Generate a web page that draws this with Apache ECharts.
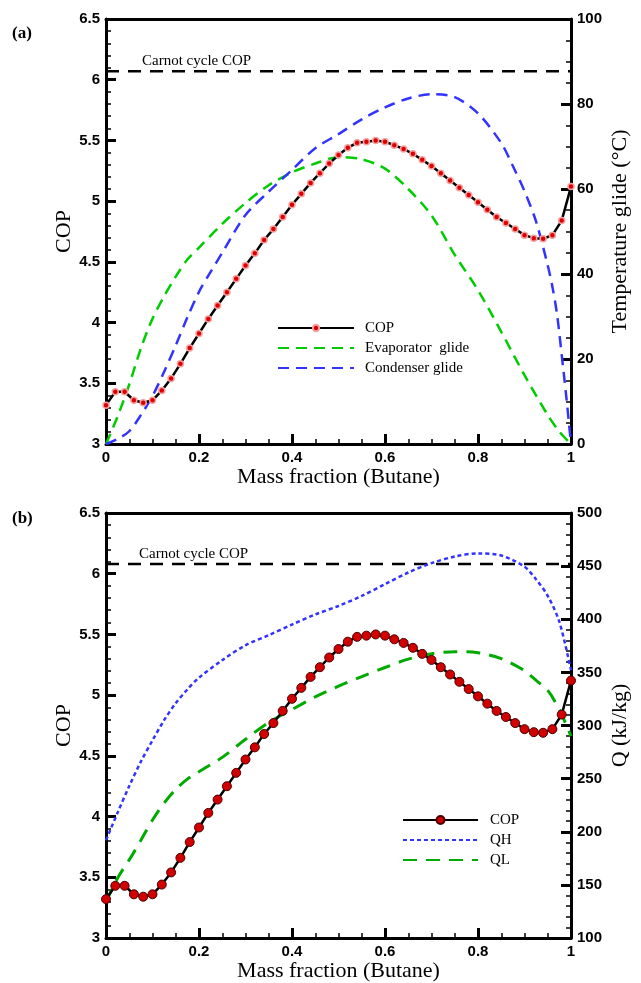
<!DOCTYPE html>
<html>
<head>
<meta charset="utf-8">
<script src="https://cdn.jsdelivr.net/npm/echarts@6/dist/echarts.min.js"></script>
<style>
html,body{margin:0;padding:0;background:#fff;}
#chart{width:641px;height:983px;}
</style>
</head>
<body>
<div id="chart"></div>
<script>
// ---- data ----
const copX = [0,0.02,0.04,0.06,0.08,0.10,0.12,0.14,0.16,0.18,0.20,0.22,0.24,0.26,0.28,0.30,0.32,0.34,0.36,0.38,0.40,0.42,0.44,0.46,0.48,0.50,0.52,0.54,0.56,0.58,0.60,0.62,0.64,0.66,0.68,0.70,0.72,0.74,0.76,0.78,0.80,0.82,0.84,0.86,0.88,0.90,0.92,0.94,0.96,0.98,1.00];
const copV = [3.32,3.43,3.43,3.36,3.34,3.36,3.44,3.54,3.66,3.79,3.91,4.03,4.14,4.25,4.36,4.47,4.57,4.68,4.77,4.87,4.97,5.06,5.15,5.23,5.31,5.38,5.44,5.48,5.49,5.50,5.49,5.46,5.43,5.39,5.34,5.29,5.23,5.17,5.11,5.05,4.99,4.93,4.87,4.82,4.77,4.72,4.695,4.69,4.72,4.84,5.12];

const evapX = [0,0.025,0.05,0.075,0.1,0.125,0.15,0.175,0.2,0.25,0.3,0.35,0.4,0.45,0.5,0.55,0.6,0.65,0.7,0.75,0.8,0.85,0.9,0.95,0.975,1];
const evapT = [0,6.5,14,22.5,29.5,34.8,39.4,43.4,46.2,51.8,56.7,60.9,63.9,66,67.5,67,64.8,60,53.8,44.5,36.2,26.4,16.2,6.8,2.9,0];

const condX = [0,0.025,0.05,0.075,0.1,0.125,0.15,0.175,0.2,0.225,0.25,0.3,0.35,0.4,0.45,0.5,0.55,0.6,0.65,0.7,0.75,0.8,0.85,0.875,0.9,0.925,0.95,0.96,0.97,0.98,0.99,1];
const condT = [0,1.2,3,6.8,11.3,17,23.2,29.8,35.8,40.5,45,53.9,59.4,64.5,69.6,72.9,76.4,79.2,81.3,82.3,81.6,77.8,70.8,65.4,59.5,52.3,42,37,30.5,21,11,0];

const qhX = [0,0.025,0.05,0.075,0.1,0.125,0.15,0.175,0.2,0.25,0.3,0.35,0.4,0.45,0.5,0.55,0.6,0.65,0.7,0.75,0.8,0.85,0.9,0.925,0.95,0.975,1];
const qhV = [192,218,243,266,286,305,321,334,345,361.5,375.5,385,395,404.5,412.5,422,433,444,452.8,459,462,460,449.4,437.5,422,397.5,352];

const qlX = [0,0.025,0.05,0.075,0.1,0.125,0.15,0.175,0.2,0.25,0.3,0.35,0.4,0.45,0.5,0.55,0.6,0.65,0.7,0.75,0.8,0.85,0.9,0.925,0.95,0.975,1];
const qlV = [134,156.5,173.5,192,211,227,240,249.5,256.5,270,287,303,315,327,337,346,354.6,362.5,367.5,369.5,368.5,363,351.6,342.4,333,315,290];

const carnotTop = 6.07;
const carnotBottom = 6.08;

const xTicks = {interval:0.2, min:0, max:1};
const copAxis = {min:3, max:6.5, interval:0.5};
const glideAxis = {min:0, max:100, interval:20};
const qAxis = {min:100, max:500, interval:50};

// ---- helpers ----
const pairs = (xs, ys) => xs.map((x,i)=>[x, ys[i]]);
const tickFont = {fontFamily:'Liberation Sans', fontWeight:'bold', fontSize:15, color:'#000'};
const titleFont = {fontFamily:'Liberation Serif', fontSize:22, color:'#000'};
const axisLine = {show:true, onZero:false, lineStyle:{color:'#000', width:3}};
const noSym = {color:'rgba(0,0,0,0)', borderWidth:0, opacity:0};

function xAx(gi){
  return {type:'value', gridIndex:gi, min:xTicks.min, max:xTicks.max, interval:xTicks.interval,
    name:'Mass fraction (Butane)', nameLocation:'middle', nameGap:22, nameMoveOverlap:false, nameTextStyle:titleFont,
    axisLine:axisLine, axisTick:{inside:true, length:10, lineStyle:{width:3, color:'#000'}},
    minorTick:{show:true, splitNumber:4, length:5, lineStyle:{width:1.5, color:'#000'}},
    splitLine:{show:false},
    axisLabel:Object.assign({margin:6, formatter:v=>String(+v.toFixed(1))}, tickFont)};
}
function xTop(gi){
  return {type:'value', gridIndex:gi, position:'top', min:0, max:1,
    axisLine:axisLine, axisTick:{show:false}, axisLabel:{show:false}, splitLine:{show:false}};
}
function yAx(gi, spec, pos, name, minorSplit, gap){
  return {type:'value', gridIndex:gi, position:pos, min:spec.min, max:spec.max, interval:spec.interval,
    name:name, nameLocation:'middle', nameGap:gap, nameRotate:90, nameMoveOverlap:false, nameTextStyle:titleFont,
    axisLine:axisLine, axisTick:{inside:true, length:10, lineStyle:{width:3, color:'#000'}},
    minorTick:{show:true, splitNumber:minorSplit, length:5, lineStyle:{width:1.5, color:'#000'}},
    splitLine:{show:false},
    axisLabel:Object.assign({margin:6, formatter:v=>String(+v.toFixed(1))}, tickFont)};
}

const option = {
  backgroundColor:'#fff',
  animation:false,
  grid:[
    {left:106, top:19, width:465, height:425},
    {left:106, top:513, width:465, height:425}
  ],
  xAxis:[xAx(0), xTop(0), xAx(1), xTop(1)],
  yAxis:[
    yAx(0, copAxis, 'left', 'COP', 5, 31),
    yAx(0, glideAxis, 'right', 'Temperature glide (°C)', 4, 38),
    yAx(1, copAxis, 'left', 'COP', 5, 31),
    yAx(1, qAxis, 'right', 'Q (kJ/kg)', 5, 38)
  ],
  legend:[
    {orient:'vertical', left:277, top:320, padding:0, itemWidth:76, itemHeight:8, itemGap:4,
     data:['COP',{name:'Evaporator  glide', itemStyle:noSym},{name:'Condenser glide', itemStyle:noSym}],
     textStyle:{fontFamily:'Liberation Serif', fontSize:15, color:'#000', lineHeight:16, padding:[0,0,0,6]}},
    {orient:'vertical', left:402, top:812, padding:0, itemWidth:75, itemHeight:10, itemGap:4,
     data:['COP ',{name:'QH', itemStyle:noSym},{name:'QL', itemStyle:noSym}], formatter:n=>n.trim(),
     textStyle:{fontFamily:'Liberation Serif', fontSize:15, color:'#000', lineHeight:16, padding:[0,0,0,7]}}
  ],
  graphic:[
    {type:'text', left:12, top:25, style:{text:'(a)', font:'bold 17px "Liberation Serif"', fill:'#000'}},
    {type:'text', left:12, top:510, style:{text:'(b)', font:'bold 17px "Liberation Serif"', fill:'#000'}},
    {type:'text', left:142, top:54, style:{text:'Carnot cycle COP', font:'15px "Liberation Serif"', fill:'#000'}},
    {type:'text', left:139, top:547, style:{text:'Carnot cycle COP', font:'15px "Liberation Serif"', fill:'#000'}}
  ],
  series:[
    {name:'Carnot', type:'line', xAxisIndex:0, yAxisIndex:0, data:[[0,carnotTop],[1,carnotTop]], symbol:'none',
     lineStyle:{color:'#000', width:2.5, type:[13,9]}},
    {name:'Evaporator  glide', type:'line', xAxisIndex:0, yAxisIndex:1, data:pairs(evapX, evapT), symbol:'none', smooth:0.3,
     itemStyle:{color:'#00cc00'}, lineStyle:{color:'#00cc00', width:2.5, type:[11,7]}},
    {name:'Condenser glide', type:'line', xAxisIndex:0, yAxisIndex:1, data:pairs(condX, condT), symbol:'none', smooth:0.3,
     itemStyle:{color:'#3333ff'}, lineStyle:{color:'#3333ff', width:2.5, type:[11,7]}},
    {name:'COP', type:'line', xAxisIndex:0, yAxisIndex:0, data:pairs(copX, copV), symbol:'circle', symbolSize:6, showAllSymbol:true,
     itemStyle:{color:'#dd0000', borderColor:'#f4a0a0', borderWidth:1.5}, lineStyle:{color:'#000', width:2.5}, z:5},

    {name:'Carnot2', type:'line', xAxisIndex:2, yAxisIndex:2, data:[[0,carnotBottom],[1,carnotBottom]], symbol:'none',
     lineStyle:{color:'#000', width:2.5, type:[13,9]}},
    {name:'QH', type:'line', xAxisIndex:2, yAxisIndex:3, data:pairs(qhX, qhV), symbol:'none', smooth:0.3,
     itemStyle:{color:'#3333ff'}, lineStyle:{color:'#3333ff', width:2.5, type:[4,3]}},
    {name:'QL', type:'line', xAxisIndex:2, yAxisIndex:3, data:pairs(qlX, qlV), symbol:'none', smooth:0.3,
     itemStyle:{color:'#00aa00'}, lineStyle:{color:'#00aa00', width:3, type:[14,9]}},
    {name:'COP ', type:'line', xAxisIndex:2, yAxisIndex:2, data:pairs(copX, copV), symbol:'circle', symbolSize:9, showAllSymbol:true,
     itemStyle:{color:'#d00000', borderColor:'#4a0000', borderWidth:1}, lineStyle:{color:'#000', width:2.5}, z:5}
  ]
};
const chart = echarts.init(document.getElementById('chart'), null, {renderer:'canvas'});
chart.setOption(option);
</script>
</body>
</html>
